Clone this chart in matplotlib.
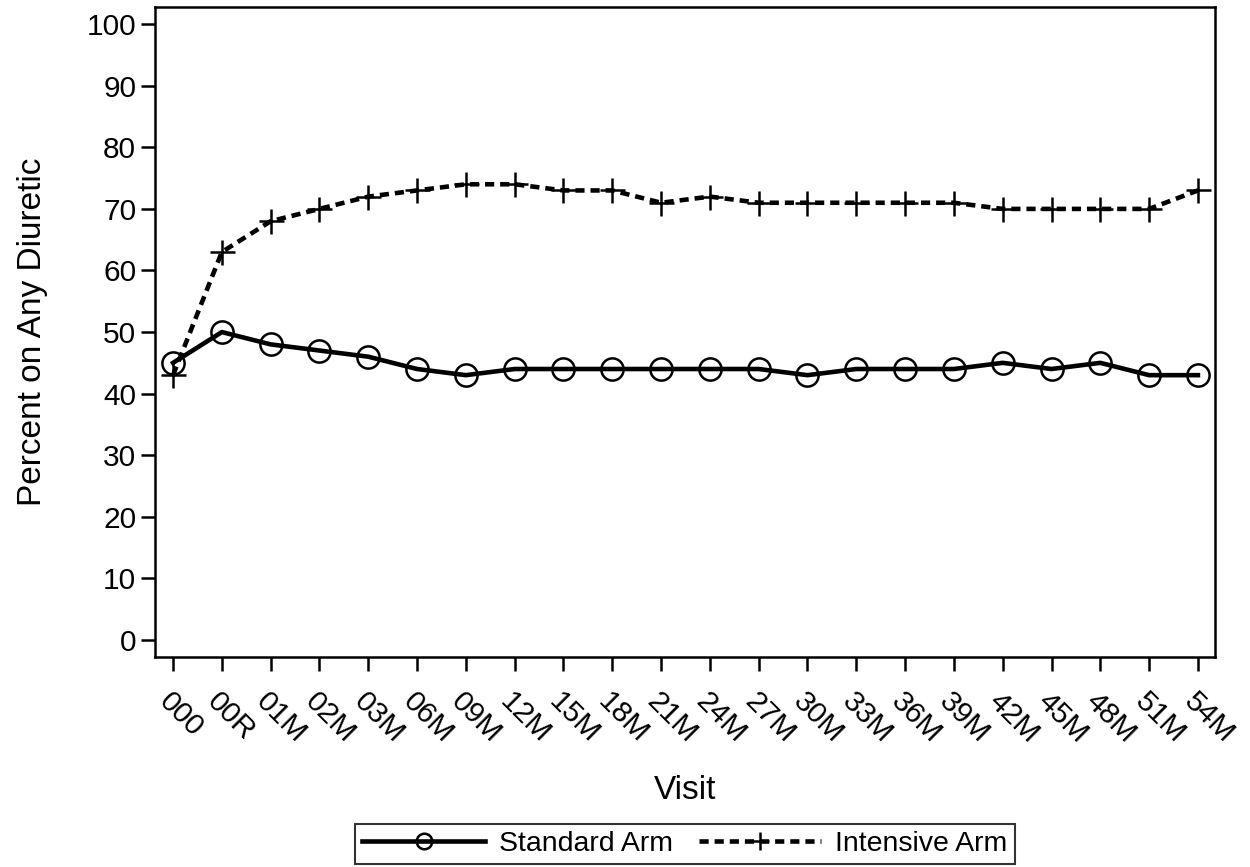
import matplotlib
matplotlib.use("Agg")
import matplotlib.pyplot as plt

visits = ['000', '00R', '01M', '02M', '03M', '06M', '09M', '12M', '15M', '18M', '21M',
          '24M', '27M', '30M', '33M', '36M', '39M', '42M', '45M', '48M', '51M', '54M']
standard = [45, 50, 48, 47, 46, 44, 43, 44, 44, 44, 44, 44, 44, 43, 44, 44, 44, 45, 44, 45, 43, 43]
intensive = [43, 63, 68, 70, 72, 73, 74, 74, 73, 73, 71, 72, 71, 71, 71, 71, 71, 70, 70, 70, 70, 73]

plt.rcParams['font.family'] = ['Liberation Sans', 'DejaVu Sans']

fig = plt.figure(figsize=(12.5, 8.67), dpi=100)
ax = fig.add_axes([0.124, 0.242, 0.848, 0.750])

x = list(range(len(visits)))
ax.plot(x, standard, color='black', lw=3.3, marker='o', ms=16, mfc='none', mec='black', mew=1.8,
        label='Standard Arm')
ax.plot(x, intensive, color='black', lw=3.3, ls=(0, (2, 1.3)), marker='+', ms=18, mew=1.8,
        label='Intensive Arm')

ax.set_xlim(-0.37, 21.35)
ax.set_ylim(-2.8, 102.8)
ax.set_yticks(range(0, 101, 10))
ax.set_xticks(x)
ax.set_xticklabels(visits, rotation=-45, ha='left', va='top', rotation_mode='anchor')

ax.tick_params(axis='both', direction='out', length=10, width=1.8, labelsize=21.5)
ax.tick_params(axis='x', pad=12)
for s in ax.spines.values():
    s.set_linewidth(1.8)

ax.set_xlabel('Visit', fontsize=24, labelpad=19)
ax.set_ylabel('Percent on Any Diuretic', fontsize=24, labelpad=28)

leg = fig.legend(loc='lower center', bbox_to_anchor=(0.548, -0.013), ncol=2, fontsize=20.5,
                 frameon=True, fancybox=False, edgecolor='black', handlelength=4.3,
                 borderpad=0.25, columnspacing=0.9, handletextpad=0.5, markerscale=0.7)
leg.get_frame().set_linewidth(1.5)

fig.savefig('out.png', dpi=100)
